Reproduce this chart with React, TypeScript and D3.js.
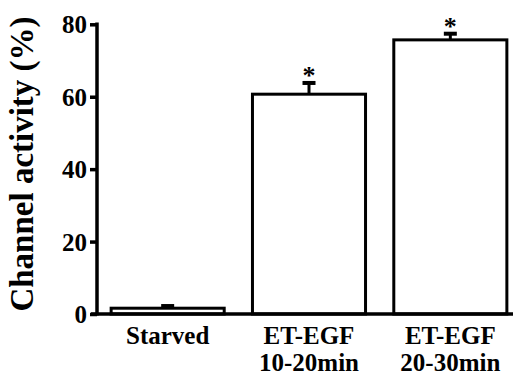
import React, { useEffect, useRef } from "react";
import * as d3 from "d3";

const width = 513;
const height = 376;

// data
const categories = ["Starved", "ET-EGF\n10-20min", "ET-EGF\n20-30min"];
const values = [1.6, 60.7, 75.7];
const errors = [0.6, 3.1, 1.7];
const significant = [false, true, true];
const yTicks = [0, 20, 40, 60, 80];

const font = "'Liberation Serif', 'Times New Roman', serif";

const xScale = d3
  .scaleBand()
  .domain(categories)
  .range([97, 521])
  .paddingInner(0.2)
  .paddingOuter(0.1);

const yScale = d3.scaleLinear().domain([0, 80]).range([314, 24.3]);

export default function App() {
  const yAxisRef = useRef<SVGGElement>(null);

  useEffect(() => {
    const yAxis = d3
      .axisLeft(yScale)
      .tickValues(yTicks)
      .tickSize(7)
      .tickSizeOuter(0)
      .tickPadding(3)
      .tickFormat(d3.format("d"));
    const g = d3.select(yAxisRef.current);
    g.call(yAxis as any);
    g.select(".domain").remove();
    g.selectAll(".tick line").attr("stroke", "#000").attr("stroke-width", 3.5);
    g.selectAll(".tick text")
      .attr("fill", "#000")
      .style("font-family", font)
      .style("font-weight", "bold")
      .style("font-size", "25px")
      .attr("dy", "0.34em");
  }, []);

  const bw = xScale.bandwidth();

  return (
    <svg
      width={width}
      height={height}
      style={{ position: "absolute", left: 0, top: 0, background: "#fff" }}
    >
      <rect width={width} height={height} fill="#fff" />
      {/* bars */}
      {categories.map((c, i) => (
        <rect
          key={c}
          x={xScale(c)}
          y={yScale(values[i])}
          width={bw}
          height={yScale(0) - yScale(values[i])}
          fill="#fff"
          stroke="#000"
          strokeWidth={3}
        />
      ))}
      {/* error bars (upper only) */}
      {categories.map((c, i) => {
        const cx = xScale(c)! + bw / 2;
        const top = yScale(values[i] + errors[i]);
        return (
          <g key={"e" + c}>
            <line x1={cx} x2={cx} y1={yScale(values[i])} y2={top} stroke="#000" strokeWidth={3} />
            <line x1={cx - 6.5} x2={cx + 6.5} y1={top} y2={top} stroke="#000" strokeWidth={4} />
            {significant[i] && (
              <text
                x={cx}
                y={top + 1}
                textAnchor="middle"
                fontFamily={font}
                fontWeight="bold"
                fontSize={26}
              >
                *
              </text>
            )}
          </g>
        );
      })}
      {/* axes */}
      <g ref={yAxisRef} transform="translate(97,0)" />
      <line x1={97} x2={97} y1={22.5} y2={315.5} stroke="#000" strokeWidth={3.5} />
      <line x1={91} x2={width} y1={314} y2={314} stroke="#000" strokeWidth={3.5} />
      {/* category labels */}
      {categories.map((c) => (
        <text
          key={"l" + c}
          x={xScale(c)! + bw / 2}
          y={344}
          textAnchor="middle"
          fontFamily={font}
          fontWeight="bold"
          fontSize={25}
        >
          {c.split("\n").map((line, j) => (
            <tspan key={j} x={xScale(c)! + bw / 2} dy={j === 0 ? 0 : 27}>
              {line}
            </tspan>
          ))}
        </text>
      ))}
      {/* y label */}
      <text
        transform="translate(33,164) rotate(-90)"
        textAnchor="middle"
        fontFamily={font}
        fontWeight="bold"
        fontSize={33}
      >
        Channel activity (%)
      </text>
    </svg>
  );
}
